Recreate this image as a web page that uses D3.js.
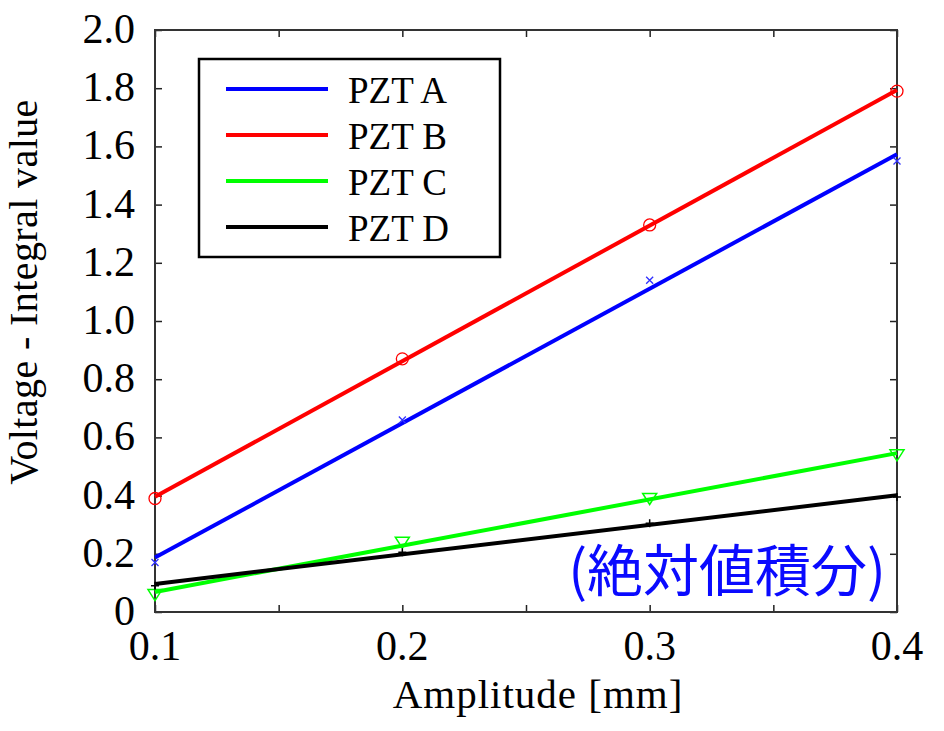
<!DOCTYPE html>
<html>
<head>
<meta charset="utf-8">
<script src="https://cdn.jsdelivr.net/npm/d3@7"></script>
<style>
  body { margin: 0; background: #fff; }
  svg { display: block; }
</style>
</head>
<body>
<div id="chart"></div>
<script>
// data
const amplitude = [0.1, 0.2, 0.3, 0.4];
const pztA = [0.17, 0.66, 1.14, 1.55];
const pztB = [0.39, 0.87, 1.33, 1.79];
const pztC = [0.06, 0.24, 0.39, 0.54];
const pztD = [0.09, 0.205, 0.305, 0.395];
const seriesNames = ["PZT A", "PZT B", "PZT C", "PZT D"];
const seriesColors = ["#0000ff", "#ff0000", "#00ff00", "#000000"];
const seriesMarkers = ["cross", "circle", "triangle", "plus"];
const xTicks = [0.1, 0.15, 0.2, 0.25, 0.3, 0.35, 0.4];
const xLabels = [0.1, 0.2, 0.3, 0.4];
const yTicks = [0, 0.2, 0.4, 0.6, 0.8, 1.0, 1.2, 1.4, 1.6, 1.8, 2.0];
const note = "(絶対値積分)";

const W = 944, H = 731;
const margin = { top: 30, right: 47, bottom: 119, left: 155 };
const width = W - margin.left - margin.right;
const height = H - margin.top - margin.bottom;

const svg = d3.select("#chart").append("svg")
  .attr("width", W).attr("height", H)
  .style("background", "#fff");

const g = svg.append("g")
  .attr("transform", `translate(${margin.left},${margin.top})`);

const x = d3.scaleLinear().domain([0.1, 0.4]).range([0, width]);
const y = d3.scaleLinear().domain([0, 2.0]).range([height, 0]);

const serif = "'Liberation Serif', 'Times New Roman', serif";
const tickLen = 7;

// inward ticks on all four sides
g.append("g").attr("transform", `translate(0,${height})`)
  .call(d3.axisBottom(x).tickValues(xTicks).tickSize(-tickLen).tickFormat(""));
g.append("g")
  .call(d3.axisTop(x).tickValues(xTicks).tickSize(-tickLen).tickFormat(""));
g.append("g")
  .call(d3.axisLeft(y).tickValues(yTicks).tickSize(-tickLen).tickFormat(""));
g.append("g").attr("transform", `translate(${width},0)`)
  .call(d3.axisRight(y).tickValues(yTicks).tickSize(-tickLen).tickFormat(""));
g.selectAll(".domain").remove();
g.selectAll(".tick line").attr("stroke", "#222").attr("stroke-width", 1.5);

// tick labels
g.selectAll(".xlab").data(xLabels).enter().append("text")
  .attr("class", "xlab")
  .attr("x", (d) => x(d))
  .attr("y", height + 48)
  .attr("text-anchor", "middle")
  .style("font-family", serif).style("font-size", "42px")
  .text((d) => d.toFixed(1));

g.selectAll(".ylab").data(yTicks).enter().append("text")
  .attr("class", "ylab")
  .attr("x", -20)
  .attr("y", (d) => y(d) + 13)
  .attr("text-anchor", "end")
  .style("font-family", serif).style("font-size", "42px")
  .text((d) => (d === 0 ? "0" : d.toFixed(1)));

// frame
g.append("rect")
  .attr("width", width).attr("height", height)
  .attr("fill", "none").attr("stroke", "#333").attr("stroke-width", 2);

// axis titles
svg.append("text")
  .attr("x", margin.left + width / 2 + 12)
  .attr("y", 708)
  .attr("text-anchor", "middle")
  .style("font-family", serif).style("font-size", "41px")
  .style("letter-spacing", "1px")
  .text("Amplitude [mm]");

svg.append("text")
  .attr("transform", "translate(37,292) rotate(-90)")
  .attr("text-anchor", "middle")
  .style("font-family", serif).style("font-size", "40px")
  .style("letter-spacing", "0.4px")
  .text("Voltage - Integral value");

// fitted lines + markers
const allSeries = [pztA, pztB, pztC, pztD];

function fit(vals) {
  const mx = d3.mean(amplitude), my = d3.mean(vals);
  const sxy = d3.sum(amplitude, (a, i) => (a - mx) * (vals[i] - my));
  const sxx = d3.sum(amplitude, (a) => (a - mx) * (a - mx));
  const slope = sxy / sxx;
  return (a) => my + slope * (a - mx);
}

const line = d3.line().x((d) => x(d[0])).y((d) => y(d[1]));

allSeries.forEach((vals, k) => {
  const f = fit(vals);
  const ends = d3.extent(amplitude).map((a) => [a, f(a)]);
  g.append("path")
    .datum(ends)
    .attr("fill", "none")
    .attr("stroke", seriesColors[k])
    .attr("stroke-width", 4)
    .attr("d", line);
});

allSeries.forEach((vals, k) => {
  const c = seriesColors[k];
  const pts = g.selectAll(".m" + k)
    .data(amplitude.map((a, i) => [a, vals[i]]))
    .enter().append("g")
    .attr("transform", (d) => `translate(${x(d[0])},${y(d[1])})`);
  const m = seriesMarkers[k];
  if (m === "circle") {
    pts.append("circle").attr("r", 6)
      .attr("fill", "none").attr("stroke", c).attr("stroke-width", 1.3);
  } else if (m === "triangle") {
    pts.append("path").attr("d", "M-7,-5L7,-5L0,6Z")
      .attr("fill", "none").attr("stroke", c).attr("stroke-width", 1.5);
  } else if (m === "cross") {
    pts.append("path").attr("d", "M-3.5,-3.5L3.5,3.5M-3.5,3.5L3.5,-3.5")
      .attr("stroke", "#3030ff").attr("stroke-width", 1.3);
  } else {
    pts.append("path").attr("d", "M-4,0L4,0M0,-4L0,4")
      .attr("stroke", c).attr("stroke-width", 1.5);
  }
});

// legend
const legend = svg.append("g").attr("transform", "translate(199,59)");
legend.append("rect")
  .attr("width", 301).attr("height", 198)
  .attr("fill", "#fff").attr("stroke", "#000").attr("stroke-width", 2.5);

const items = legend.selectAll(".item").data(seriesNames).enter().append("g")
  .attr("class", "item")
  .attr("transform", (d, i) => `translate(0,${30 + i * 46})`);
items.append("line")
  .attr("x1", 27).attr("x2", 129)
  .attr("stroke", (d, i) => seriesColors[i]).attr("stroke-width", 4);
items.append("text")
  .attr("x", 149).attr("y", 14)
  .style("font-family", serif).style("font-size", "37px")
  .text((d) => d);

// annotation
svg.append("text")
  .attr("x", 886).attr("y", 591)
  .attr("text-anchor", "end")
  .attr("fill", "#0a0aff")
  .style("font-family", "'Noto Sans CJK JP', sans-serif")
  .style("font-size", "56px")
  .text(note);
</script>
</body>
</html>
